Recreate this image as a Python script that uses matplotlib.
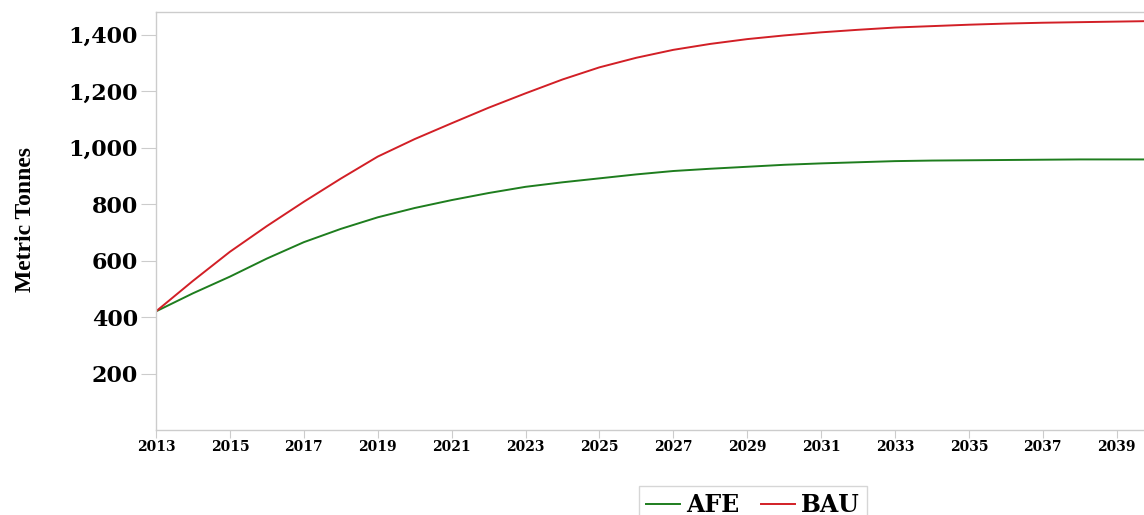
import matplotlib
matplotlib.use("Agg")
import matplotlib.pyplot as plt
from matplotlib.lines import Line2D

years = list(range(2013, 2041))
afe = [420, 484, 543, 607, 665, 712, 753, 786, 814, 839, 861, 877, 891, 905,
       917, 925, 932, 939, 944, 948, 952, 954, 955, 956, 957, 958, 958, 958]
bau = [420, 528, 631, 722, 808, 890, 968, 1030, 1086, 1141, 1192, 1241, 1284, 1318,
       1346, 1367, 1384, 1397, 1408, 1417, 1425, 1430, 1435, 1439, 1442, 1444, 1446, 1448]
xticks = list(range(2013, 2040, 2))
yticks = [200, 400, 600, 800, 1000, 1200, 1400]
series_names = ["AFE", "BAU"]
colors = ["#1e7d1e", "#d21f26"]

fig = plt.figure(figsize=(11.44, 5.15), dpi=100)
ax = fig.add_axes([156/1144, 1-430/515, 1-156/1144, (430-12)/515])

ax.plot(years, afe, color=colors[0], lw=1.4)
ax.plot(years, bau, color=colors[1], lw=1.4)

ax.set_xlim(2013, 2013 + (1144-156)/36.95)
ax.set_ylim(0, 1480)
spine_c = "#cccccc"
for s in ["left", "bottom", "top"]:
    ax.spines[s].set_color(spine_c)
    ax.spines[s].set_linewidth(1.0)
ax.spines["right"].set_visible(False)

tick_font = "DejaVu Serif"
ax.set_xticks(xticks)
ax.set_xticklabels([str(t) for t in xticks], fontfamily=tick_font,
                   fontweight="bold", fontsize=10)
ax.set_yticks(yticks)
ax.set_yticklabels([f"{t:,}" for t in yticks], fontfamily=tick_font,
                   fontweight="bold", fontsize=16)
ax.tick_params(axis="y", length=11, color=spine_c, pad=2)
ax.tick_params(axis="x", length=6, color=spine_c, pad=1)

fig.text(26/1144, 1-220/515, "Metric Tonnes", rotation=90, ha="center", va="center",
         fontfamily="Liberation Serif", fontweight="bold", fontsize=17)

handles = [Line2D([], [], color=c, lw=1.4) for c in colors]
leg = fig.legend(handles, series_names, loc="upper center",
                 bbox_to_anchor=(753/1144, 1-486/515), ncol=2, frameon=True,
                 fancybox=False, edgecolor=spine_c, handlelength=1.45,
                 handletextpad=0.25, columnspacing=0.9, borderpad=0.3,
                 borderaxespad=0,
                 prop={"family": tick_font, "weight": "bold", "size": 17})
leg.get_frame().set_linewidth(1.0)

fig.savefig("out.png", dpi=100)
